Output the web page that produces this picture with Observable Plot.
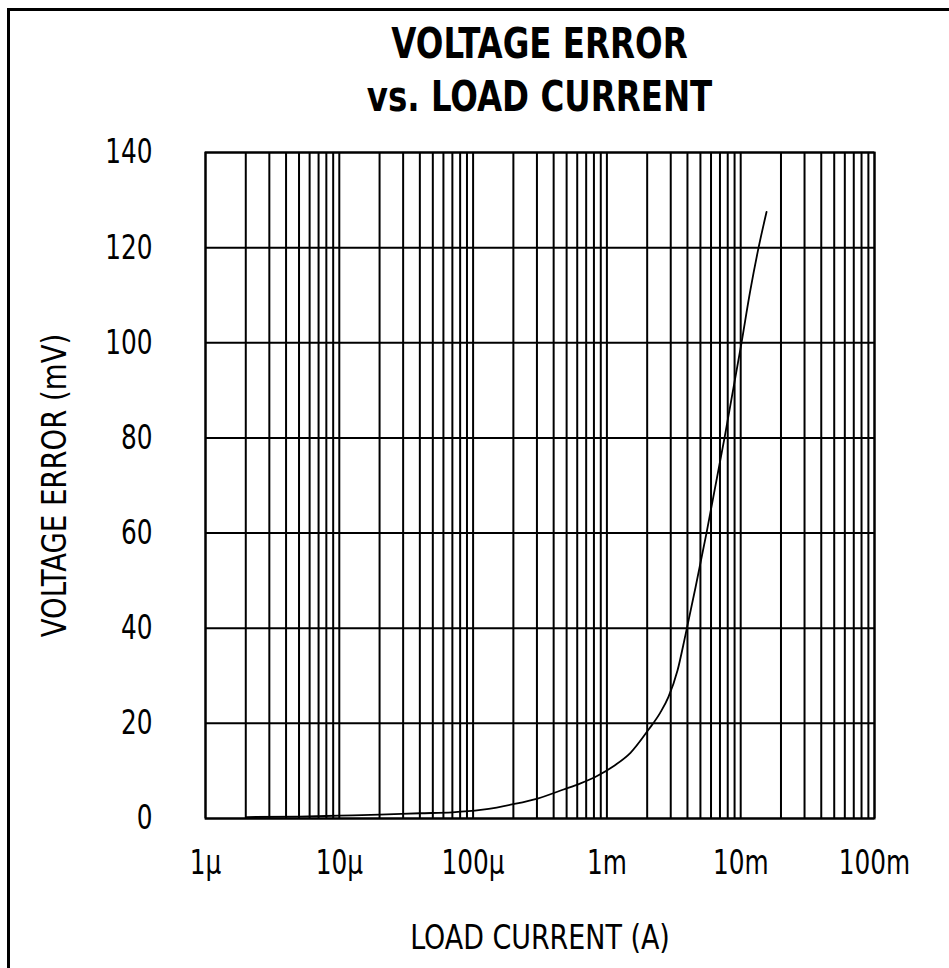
<!DOCTYPE html>
<html>
<head>
<meta charset="utf-8">
<script src="https://cdn.jsdelivr.net/npm/d3@7"></script>
<script src="https://cdn.jsdelivr.net/npm/@observablehq/plot@0.6"></script>
<style>
  html, body { margin: 0; padding: 0; background: #fff; }
  #wrap { position: relative; width: 949px; height: 968px; overflow: hidden; background: #fff; }
  #border { position: absolute; left: 7px; top: 8px; width: 960px; height: 980px; border-top: 3px solid #000; border-left: 3px solid #000; box-sizing: border-box; }
  #title { position: absolute; left: 205px; width: 669px; top: 17px; text-align: center;
    font-family: "DejaVu Sans Condensed", "DejaVu Sans", sans-serif; font-weight: bold;
    font-size: 43px; line-height: 53px; color: #000; transform: scaleX(0.84); transform-origin: 50% 50%; }
  #chart { position: absolute; left: 0; top: 0; }
</style>
</head>
<body>
<div id="wrap">
  <div id="border"></div>
  <div id="title">VOLTAGE ERROR<br>vs. LOAD CURRENT</div>
  <div id="chart"></div>
</div>
<script>
// Load current (A)
const current = [2e-6, 5e-6, 1e-5, 2e-5, 4e-5, 7e-5, 1.14e-4, 1.5e-4, 2.0e-4, 3.03e-4, 4.74e-4, 6.35e-4, 8.51e-4, 1.12e-3, 1.5e-3, 2.05e-3, 2.5e-3, 2.88e-3, 3.37e-3, 3.86e-3, 4.59e-3, 5.55e-3, 7.57e-3, 1.014e-2, 1.18e-2, 1.36e-2, 1.56e-2];
// Voltage error (mV)
const verror = [0.3, 0.4, 0.6, 0.8, 1.1, 1.3, 1.8, 2.3, 3.0, 4.2, 6.1, 7.4, 9.0, 11.0, 13.8, 18.7, 22.2, 25.5, 31.1, 38.5, 48.5, 60, 80, 100, 111, 120, 127.5];

const xTicks = [1e-6, 1e-5, 1e-4, 1e-3, 1e-2, 1e-1];
const xTickLabels = ["1µ", "10µ", "100µ", "1m", "10m", "100m"];
const yTicks = [0, 20, 40, 60, 80, 100, 120, 140];
const xMultipliers = [2, 3, 4, 5, 6, 7, 8, 9];

const data = current.map((c, i) => ({current: c, verror: verror[i]}));
const xGrid = xTicks.slice(0, -1).flatMap(d => [d, ...xMultipliers.map(m => d * m)]).concat([1e-1]);

const font = '"DejaVu Sans Condensed", "DejaVu Sans", sans-serif';

const chart = Plot.plot({
  width: 949,
  height: 968,
  marginLeft: 205,
  marginRight: 75,
  marginTop: 152,
  marginBottom: 150,
  style: {fontFamily: font, fontSize: "34px", color: "#000", background: "transparent", overflow: "visible"},
  x: {type: "log", domain: [1e-6, 1e-1]},
  y: {domain: [0, 140]},
  marks: [
    Plot.ruleX(xGrid, {stroke: "#000", strokeWidth: 2, strokeOpacity: 1}),
    Plot.ruleY(yTicks, {stroke: "#000", strokeWidth: 2, strokeOpacity: 1}),
    Plot.frame({stroke: "#000", strokeWidth: 2}),
    Plot.axisX({
      ticks: xTicks,
      tickFormat: d => xTickLabels[xTicks.indexOf(d)],
      tickSize: 0, tickPadding: 31,
      label: "LOAD CURRENT (A)", labelAnchor: "center", labelArrow: "none", labelOffset: 130,
      fontSize: 34
    }),
    Plot.axisY({
      ticks: yTicks,
      tickSize: 0, tickPadding: 53,
      label: "VOLTAGE ERROR (mV)", labelAnchor: "center", labelArrow: "none", labelOffset: 164,
      fontSize: 34
    }),
    Plot.line(data, {x: "current", y: "verror", stroke: "#000", strokeWidth: 1.8, curve: "monotone-x"})
  ]
});

// Narrow the lettering horizontally (text direction) to match the condensed typeface of the original
function narrow(selector, k) {
  chart.querySelectorAll(selector).forEach(t => {
    const xa = t.getAttribute("x");
    const x = xa != null && /^-?[\d.]+$/.test(xa) ? +xa : 0;
    const tr = t.getAttribute("transform") || "";
    t.setAttribute("transform", `${tr} translate(${x},0) scale(${k},1) translate(${-x},0)`);
  });
}
narrow('g[aria-label="x-axis tick label"] text', 0.81);
narrow('g[aria-label="y-axis tick label"] text', 0.81);
narrow('g[aria-label="x-axis label"] text', 0.88);
narrow('g[aria-label="y-axis label"] text', 0.9);

document.getElementById("chart").appendChild(chart);
</script>
</body>
</html>
